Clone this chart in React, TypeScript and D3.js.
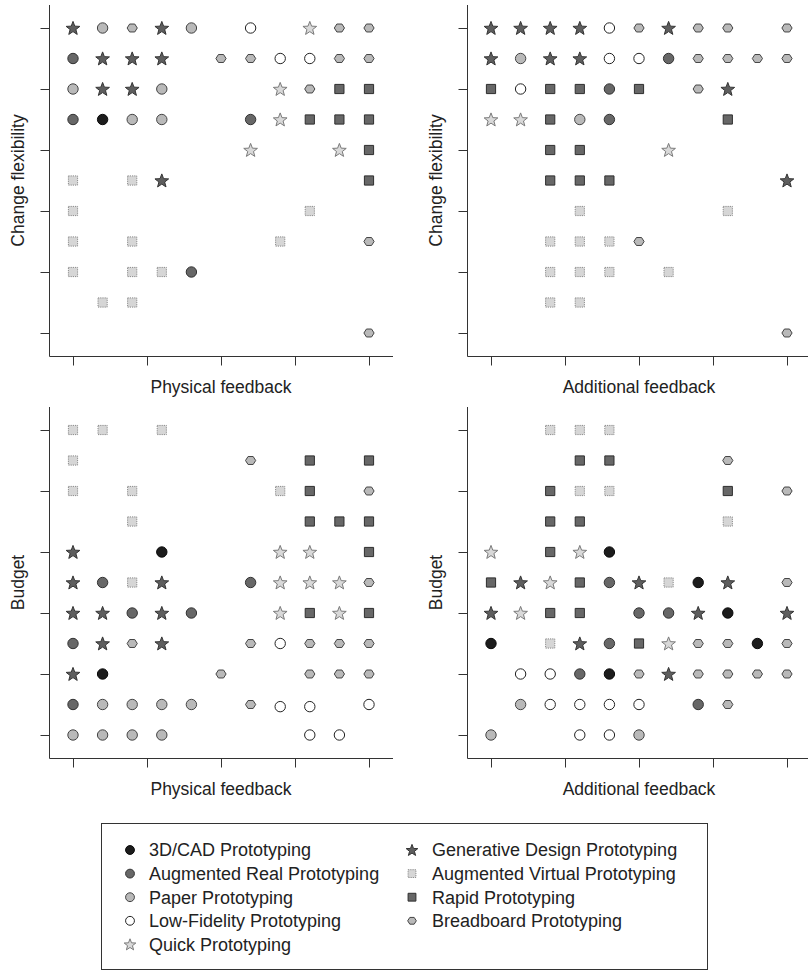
import React, { useEffect, useRef } from "react";
import * as d3 from "d3";

// ---------- data ----------
const categories = [
  "3D/CAD Prototyping",
  "Augmented Real Prototyping",
  "Paper Prototyping",
  "Low-Fidelity Prototyping",
  "Quick Prototyping",
  "Generative Design Prototyping",
  "Augmented Virtual Prototyping",
  "Rapid Prototyping",
  "Breadboard Prototyping",
];
const categoryCodes = ["CAD", "AR", "PA", "LF", "QU", "GD", "AV", "RP", "BB"];
const legendColumn1 = ["CAD", "AR", "PA", "LF", "QU"];
const legendColumn2 = ["GD", "AV", "RP", "BB"];

const xTickValues = [0, 2.5, 5, 7.5, 10];
const yTickValues = [0, 2, 4, 6, 8, 10];

type Pt = [number, number, string];

// Physical feedback (x) vs Change flexibility (y)
const physicalChange: Pt[] = [
  [0, 10, "GD"], [1, 10, "PA"], [2, 10, "BB"], [3, 10, "GD"], [4, 10, "PA"], [6, 10, "LF"], [8, 10, "QU"], [9, 10, "BB"], [10, 10, "BB"],
  [0, 9, "AR"], [1, 9, "GD"], [2, 9, "GD"], [3, 9, "GD"], [5, 9, "BB"], [6, 9, "BB"], [7, 9, "LF"], [8, 9, "LF"], [9, 9, "BB"], [10, 9, "BB"],
  [0, 8, "PA"], [1, 8, "GD"], [2, 8, "GD"], [3, 8, "PA"], [7, 8, "QU"], [8, 8, "BB"], [9, 8, "RP"], [10, 8, "RP"],
  [0, 7, "AR"], [1, 7, "CAD"], [2, 7, "PA"], [3, 7, "PA"], [6, 7, "AR"], [7, 7, "QU"], [8, 7, "RP"], [9, 7, "RP"], [10, 7, "RP"],
  [6, 6, "QU"], [9, 6, "QU"], [10, 6, "RP"],
  [0, 5, "AV"], [2, 5, "AV"], [3, 5, "GD"], [10, 5, "RP"],
  [0, 4, "AV"], [8, 4, "AV"],
  [0, 3, "AV"], [2, 3, "AV"], [7, 3, "AV"], [10, 3, "BB"],
  [0, 2, "AV"], [2, 2, "AV"], [3, 2, "AV"], [4, 2, "AR"],
  [1, 1, "AV"], [2, 1, "AV"],
  [10, 0, "BB"],
];

// Additional feedback (x) vs Change flexibility (y)
const additionalChange: Pt[] = [
  [0, 10, "GD"], [1, 10, "GD"], [2, 10, "GD"], [3, 10, "GD"], [4, 10, "LF"], [5, 10, "BB"], [6, 10, "GD"], [7, 10, "BB"], [8, 10, "BB"], [10, 10, "BB"],
  [0, 9, "GD"], [1, 9, "PA"], [2, 9, "GD"], [3, 9, "GD"], [4, 9, "LF"], [5, 9, "LF"], [6, 9, "AR"], [7, 9, "BB"], [8, 9, "BB"], [9, 9, "BB"], [10, 9, "BB"],
  [0, 8, "RP"], [1, 8, "LF"], [2, 8, "RP"], [3, 8, "RP"], [4, 8, "AR"], [5, 8, "RP"], [7, 8, "BB"], [8, 8, "GD"],
  [0, 7, "QU"], [1, 7, "QU"], [2, 7, "RP"], [3, 7, "PA"], [4, 7, "AR"], [8, 7, "RP"],
  [2, 6, "RP"], [3, 6, "RP"], [6, 6, "QU"],
  [2, 5, "RP"], [3, 5, "RP"], [4, 5, "RP"], [10, 5, "GD"],
  [3, 4, "AV"], [8, 4, "AV"],
  [2, 3, "AV"], [3, 3, "AV"], [4, 3, "AV"], [5, 3, "BB"],
  [2, 2, "AV"], [3, 2, "AV"], [4, 2, "AV"], [6, 2, "AV"],
  [2, 1, "AV"], [3, 1, "AV"],
  [10, 0, "BB"],
];

// Physical feedback (x) vs Budget (y)
const physicalBudget: Pt[] = [
  [0, 10, "AV"], [1, 10, "AV"], [3, 10, "AV"],
  [0, 9, "AV"], [6, 9, "BB"], [8, 9, "RP"], [10, 9, "RP"],
  [0, 8, "AV"], [2, 8, "AV"], [7, 8, "AV"], [8, 8, "RP"], [10, 8, "BB"],
  [2, 7, "AV"], [8, 7, "RP"], [9, 7, "RP"], [10, 7, "RP"],
  [0, 6, "GD"], [3, 6, "CAD"], [7, 6, "QU"], [8, 6, "QU"], [10, 6, "RP"],
  [0, 5, "GD"], [1, 5, "AR"], [2, 5, "AV"], [3, 5, "GD"], [6, 5, "AR"], [7, 5, "QU"], [8, 5, "QU"], [9, 5, "QU"], [10, 5, "BB"],
  [0, 4, "GD"], [1, 4, "GD"], [2, 4, "AR"], [3, 4, "GD"], [4, 4, "AR"], [7, 4, "QU"], [8, 4, "RP"], [9, 4, "QU"], [10, 4, "RP"],
  [0, 3, "AR"], [1, 3, "GD"], [2, 3, "BB"], [3, 3, "GD"], [6, 3, "BB"], [7, 3, "LF"], [8, 3, "BB"], [9, 3, "BB"], [10, 3, "BB"],
  [0, 2, "GD"], [1, 2, "CAD"], [5, 2, "BB"], [8, 2, "BB"], [9, 2, "BB"], [10, 2, "BB"],
  [0, 1, "AR"], [1, 1, "PA"], [2, 1, "PA"], [3, 1, "PA"], [4, 1, "PA"], [6, 1, "BB"], [7, 0.93, "LF"], [8, 0.93, "LF"], [10, 1, "LF"],
  [0, 0, "PA"], [1, 0, "PA"], [2, 0, "PA"], [3, 0, "PA"], [8, 0, "LF"], [9, 0, "LF"],
];

// Additional feedback (x) vs Budget (y)
const additionalBudget: Pt[] = [
  [2, 10, "AV"], [3, 10, "AV"], [4, 10, "AV"],
  [3, 9, "RP"], [4, 9, "RP"], [8, 9, "BB"],
  [2, 8, "RP"], [3, 8, "AV"], [4, 8, "AV"], [8, 8, "RP"], [10, 8, "BB"],
  [2, 7, "RP"], [3, 7, "RP"], [8, 7, "AV"],
  [0, 6, "QU"], [2, 6, "RP"], [3, 6, "QU"], [4, 6, "CAD"],
  [0, 5, "RP"], [1, 5, "GD"], [2, 5, "QU"], [3, 5, "RP"], [4, 5, "AR"], [5, 5, "GD"], [6, 5, "AV"], [7, 5, "CAD"], [8, 5, "GD"], [10, 5, "BB"],
  [0, 4, "GD"], [1, 4, "QU"], [2, 4, "RP"], [3, 4, "RP"], [5, 4, "AR"], [6, 4, "AR"], [7, 4, "GD"], [8, 4, "CAD"], [10, 4, "GD"],
  [0, 3, "CAD"], [2, 3, "AV"], [3, 3, "GD"], [4, 3, "AR"], [5, 3, "RP"], [6, 3, "QU"], [7, 3, "BB"], [8, 3, "BB"], [9, 3, "CAD"], [10, 3, "BB"],
  [1, 2, "LF"], [2, 2, "LF"], [3, 2, "AR"], [4, 2, "CAD"], [5, 2, "BB"], [6, 2, "GD"], [7, 2, "BB"], [8, 2, "BB"], [9, 2, "BB"], [10, 2, "BB"],
  [1, 1, "PA"], [2, 1, "LF"], [3, 1, "LF"], [4, 1, "LF"], [5, 1, "LF"], [7, 1, "AR"], [8, 1, "BB"],
  [0, 0, "PA"], [3, 0, "LF"], [4, 0, "LF"], [5, 0, "PA"],
];

// ---------- styles ----------
const markerStyle: Record<string, { shape: string; fill: string; stroke: string; dash?: string }> = {
  CAD: { shape: "circle", fill: "#1c1c1c", stroke: "#0a0a0a" },
  AR: { shape: "circle", fill: "#676767", stroke: "#333" },
  PA: { shape: "circle", fill: "#b9b9b9", stroke: "#444" },
  LF: { shape: "circle", fill: "#ffffff", stroke: "#222" },
  QU: { shape: "star", fill: "#d9d9d9", stroke: "#7a7a7a" },
  GD: { shape: "star", fill: "#5e5e5e", stroke: "#333" },
  AV: { shape: "square", fill: "#d6d6d6", stroke: "#8a8a8a", dash: "1.2,1" },
  RP: { shape: "square", fill: "#676767", stroke: "#2e2e2e" },
  BB: { shape: "hex", fill: "#b9b9b9", stroke: "#444" },
};

function markerPath(shape: string, k: number): string {
  if (shape === "circle") {
    const r = 5.2 * k;
    return `M${r},0A${r},${r} 0 1,1 ${-r},0A${r},${r} 0 1,1 ${r},0Z`;
  }
  if (shape === "square") {
    const h = 4.6 * k;
    return `M${-h},${-h}H${h}V${h}H${-h}Z`;
  }
  if (shape === "hex") {
    const r = 5.1 * k;
    const pts = d3.range(6).map((i) => {
      const a = (Math.PI / 3) * i;
      return [r * Math.cos(a), r * 0.9 * Math.sin(a)] as [number, number];
    });
    return "M" + pts.map((p) => p.join(",")).join("L") + "Z";
  }
  // star
  const R = 7.2 * k;
  const ri = R * 0.42;
  const pts = d3.range(10).map((i) => {
    const a = -Math.PI / 2 + (Math.PI / 5) * i;
    const rr = i % 2 === 0 ? R : ri;
    return [rr * Math.cos(a), rr * Math.sin(a) + 0.6 * k] as [number, number];
  });
  return "M" + pts.map((p) => p.map((v) => v.toFixed(2)).join(",")).join("L") + "Z";
}

const FONT = "'Liberation Sans', Arial, Helvetica, sans-serif";

const panels = [
  { data: physicalChange, xLabel: "Physical feedback", yLabel: "Change flexibility", left: 49, top: 5 },
  { data: additionalChange, xLabel: "Additional feedback", yLabel: "Change flexibility", left: 467, top: 5 },
  { data: physicalBudget, xLabel: "Physical feedback", yLabel: "Budget", left: 49, top: 407 },
  { data: additionalBudget, xLabel: "Additional feedback", yLabel: "Budget", left: 467, top: 407 },
];

const PLOT_W = 344;
const PLOT_H = 351;
const PAD_X = 24;
const PAD_Y = 23;

function Panel({ p }: { p: (typeof panels)[number] }) {
  const xAxisRef = useRef<SVGGElement>(null);
  const yAxisRef = useRef<SVGGElement>(null);
  const x = d3.scaleLinear().domain([0, 10]).range([p.left + PAD_X, p.left + PLOT_W - PAD_X]);
  const y = d3.scaleLinear().domain([0, 10]).range([p.top + PLOT_H - PAD_Y, p.top + PAD_Y]);
  const bottom = p.top + PLOT_H;

  useEffect(() => {
    if (xAxisRef.current) {
      const g = d3.select(xAxisRef.current);
      g.call(d3.axisBottom(x).tickValues(xTickValues).tickFormat(() => "").tickSize(9).tickSizeOuter(0));
      g.select(".domain").remove();
      g.selectAll("line").attr("stroke", "#333");
    }
    if (yAxisRef.current) {
      const g = d3.select(yAxisRef.current);
      g.call(d3.axisLeft(y).tickValues(yTickValues).tickFormat(() => "").tickSize(9).tickSizeOuter(0));
      g.select(".domain").remove();
      g.selectAll("line").attr("stroke", "#333");
    }
  });

  const cx = (x(0) + x(10)) / 2;
  const cy = (y(0) + y(10)) / 2;
  return (
    <g>
      <path
        d={`M${p.left + 0.5},${p.top}V${bottom + 0.5}H${Math.min(p.left + PLOT_W, 808)}`}
        fill="none"
        stroke="#333"
        strokeWidth={1}
      />
      <g ref={xAxisRef} transform={`translate(0,${bottom + 0.5})`} />
      <g ref={yAxisRef} transform={`translate(${p.left + 0.5},0)`} />
      {p.data.map((d, i) => {
        const s = markerStyle[d[2]];
        return (
          <path
            key={i}
            d={markerPath(s.shape, 1)}
            transform={`translate(${x(d[0])},${y(d[1])})`}
            fill={s.fill}
            stroke={s.stroke}
            strokeWidth={1}
            strokeDasharray={s.dash}
          />
        );
      })}
      <text x={cx} y={bottom + 37} textAnchor="middle" fontFamily={FONT} fontSize={17.5} fill="#222">
        {p.xLabel}
      </text>
      <text
        transform={`translate(${p.left - 25},${cy}) rotate(-90)`}
        textAnchor="middle"
        fontFamily={FONT}
        fontSize={17.5}
        fill="#222"
      >
        {p.yLabel}
      </text>
    </g>
  );
}

function Legend() {
  const top = 823;
  const rowY = (i: number) => 850 + i * 23.6;
  const col = (codes: string[], mx: number, tx: number) =>
    codes.map((c, i) => {
      const s = markerStyle[c];
      const label = categories[categoryCodes.indexOf(c)];
      return (
        <g key={c}>
          <path
            d={markerPath(s.shape, 0.85)}
            transform={`translate(${mx},${rowY(i)})`}
            fill={s.fill}
            stroke={s.stroke}
            strokeWidth={1}
            strokeDasharray={s.dash}
          />
          <text x={tx} y={rowY(i) + 6.4} fontFamily={FONT} fontSize={18} fill="#222">
            {label}
          </text>
        </g>
      );
    });
  return (
    <g>
      <rect x={101.5} y={top + 0.5} width={606} height={146} fill="none" stroke="#333" strokeWidth={1} />
      {col(legendColumn1, 130, 149)}
      {col(legendColumn2, 412, 432)}
    </g>
  );
}

export default function App() {
  return (
    <svg
      width={808}
      height={975}
      style={{ position: "absolute", left: 0, top: 0, background: "#fff" }}
    >
      <rect width={808} height={975} fill="#fff" />
      {panels.map((p, i) => (
        <Panel key={i} p={p} />
      ))}
      <Legend />
    </svg>
  );
}
